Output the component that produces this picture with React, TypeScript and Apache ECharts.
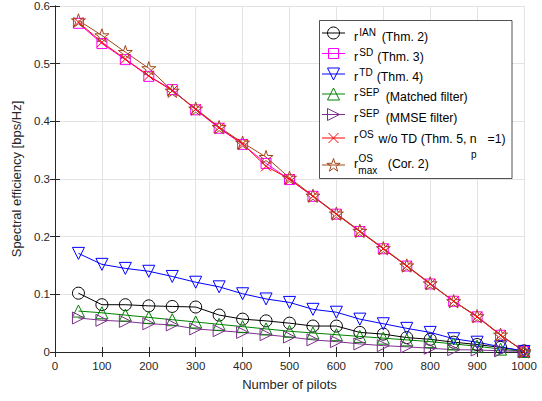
import React, { useEffect, useRef } from "react";
import * as echarts from "echarts";

const pilots = [50, 100, 150, 200, 250, 300, 350, 400, 450, 500, 550, 600, 650, 700, 750, 800, 850, 900, 950, 1000];

const rIAN = [0.102, 0.082, 0.082, 0.080, 0.079, 0.078, 0.064, 0.057, 0.054, 0.050, 0.045, 0.045, 0.034, 0.031, 0.025, 0.022, 0.017, 0.013, 0.008, 0.002];
const rSD = [0.570, 0.535, 0.507, 0.478, 0.455, 0.420, 0.388, 0.360, 0.327, 0.299, 0.270, 0.239, 0.209, 0.179, 0.149, 0.118, 0.088, 0.061, 0.029, 0.001];
const rTD = [0.171, 0.152, 0.145, 0.140, 0.131, 0.121, 0.113, 0.101, 0.092, 0.086, 0.074, 0.069, 0.057, 0.049, 0.041, 0.034, 0.023, 0.017, 0.009, 0.001];
const rSEPmf = [0.071, 0.068, 0.064, 0.060, 0.056, 0.052, 0.048, 0.044, 0.040, 0.036, 0.033, 0.030, 0.027, 0.024, 0.021, 0.018, 0.014, 0.010, 0.005, 0.001];
const rSEPmmse = [0.059, 0.055, 0.053, 0.049, 0.047, 0.040, 0.037, 0.034, 0.030, 0.026, 0.021, 0.018, 0.014, 0.011, 0.009, 0.0065, 0.004, 0.0035, 0.002, 0.001];
const rOS = [0.572, 0.537, 0.508, 0.479, 0.453, 0.421, 0.389, 0.361, 0.322, 0.300, 0.270, 0.239, 0.209, 0.179, 0.149, 0.118, 0.088, 0.061, 0.029, 0.001];
const rOSmax = [0.575, 0.549, 0.520, 0.492, 0.453, 0.422, 0.390, 0.363, 0.338, 0.302, 0.271, 0.240, 0.210, 0.180, 0.150, 0.119, 0.088, 0.062, 0.030, 0.001];

const FONT = "'Liberation Sans', Arial, Helvetica, sans-serif";
const TXT = "#262626";
const C_BLACK = "#000000";
const C_MAG = "#FF00FF";
const C_BLUE = "#0000FF";
const C_GREEN = "#008000";
const C_PURPLE = "#7E2F8E";
const C_RED = "#FF0000";
const C_BROWN = "#A0461A";

const STAR = "path://M100,0L122.45,69.1L195.1,69.1L136.3,111.8L158.8,180.9L100,138.2L41.2,180.9L63.7,111.8L4.9,69.1L77.55,69.1Z";
const XMARK = "path://M0,0L10,10M10,0L0,10";

function mk(name: string, vals: number[], color: string, symbol: string, size: number, rotate = 0) {
  return {
    type: "line",
    name,
    data: pilots.map((p, i) => [p, vals[i]]),
    symbol,
    symbolSize: size,
    symbolRotate: rotate,
    symbolKeepAspect: true,
    showAllSymbol: true,
    lineStyle: { color, width: 1 },
    itemStyle: { color: "rgba(0,0,0,0)", borderColor: color, borderWidth: 1 },
    emphasis: { disabled: true },
  };
}

function starPts(cx: number, cy: number, r: number) {
  const pts: number[][] = [];
  for (let k = 0; k < 10; k++) {
    const a = ((-90 + 36 * k) * Math.PI) / 180;
    const rr = k % 2 === 0 ? r : r * 0.382;
    pts.push([cx + rr * Math.cos(a), cy + rr * Math.sin(a)]);
  }
  return pts;
}

function legendGraphics() {
  const els: any[] = [];
  const bx = 319.5, by = 20.5, bw = 192.5, bh = 158;
  els.push({ type: "rect", shape: { x: bx, y: by, width: bw, height: bh }, style: { fill: "#fff", stroke: TXT, lineWidth: 0.8 }, z: 10 });
  const lx0 = 322, lx1 = 345, cx = 333.5;
  const rows = [
    { cy: 33, color: C_BLACK, mk: "circle" },
    { cy: 53.5, color: C_MAG, mk: "rect" },
    { cy: 74, color: C_BLUE, mk: "tdown" },
    { cy: 94, color: C_GREEN, mk: "tup" },
    { cy: 114.5, color: C_PURPLE, mk: "tright" },
    { cy: 138, color: C_RED, mk: "x" },
    { cy: 165, color: C_BROWN, mk: "star" },
  ];
  rows.forEach((r) => {
    els.push({ type: "line", shape: { x1: lx0, y1: r.cy, x2: lx1, y2: r.cy }, style: { stroke: r.color, lineWidth: 1 }, z: 11 });
    const st = { fill: "none", stroke: r.color, lineWidth: 1 };
    const y = r.cy;
    if (r.mk === "circle") els.push({ type: "circle", shape: { cx, cy: y, r: 6 }, style: st, z: 12 });
    if (r.mk === "rect") els.push({ type: "rect", shape: { x: cx - 5, y: y - 5, width: 10, height: 10 }, style: st, z: 12 });
    if (r.mk === "tdown") els.push({ type: "polygon", shape: { points: [[cx - 6, y - 6], [cx + 6, y - 6], [cx, y + 6]] }, style: st, z: 12 });
    if (r.mk === "tup") els.push({ type: "polygon", shape: { points: [[cx - 6, y + 6], [cx + 6, y + 6], [cx, y - 6]] }, style: st, z: 12 });
    if (r.mk === "tright") els.push({ type: "polygon", shape: { points: [[cx - 6, y - 6], [cx - 6, y + 6], [cx + 6, y]] }, style: st, z: 12 });
    if (r.mk === "x") {
      els.push({ type: "line", shape: { x1: cx - 5, y1: y - 5, x2: cx + 5, y2: y + 5 }, style: st, z: 12 });
      els.push({ type: "line", shape: { x1: cx + 5, y1: y - 5, x2: cx - 5, y2: y + 5 }, style: st, z: 12 });
    }
    if (r.mk === "star") els.push({ type: "polygon", shape: { points: starPts(cx, y + 0.5, 7) }, style: st, z: 12 });
  });
  const FS = 12.3, FSS = 10;
  const t = (text: string, x: number, y: number, fs: number) => ({
    type: "text", x, y, z: 12,
    style: { text, fill: C_BLACK, fontSize: fs, fontFamily: FONT, verticalAlign: "middle", align: "left" },
  });
  const entries = [
    { m: 36.5, sup: "IAN", rest: "(Thm. 2)", rx: 381.7 },
    { m: 56.5, sup: "SD", rest: "(Thm. 3)", rx: 377.3 },
    { m: 76.5, sup: "TD", rest: "(Thm. 4)", rx: 376.7 },
    { m: 96.5, sup: "SEP", rest: "(Matched filter)", rx: 385.7 },
    { m: 117.5, sup: "SEP", rest: "(MMSE filter)", rx: 385.7 },
    { m: 138.5, sup: "OS", rest: "w/o TD (Thm. 5, n", rx: 378.5 },
  ];
  entries.forEach((e) => {
    els.push(t("r", 354, e.m, FS));
    els.push(t(e.sup, 359.3, e.m - 4.3, FSS));
    els.push(t(e.rest, e.rx, e.m, FS));
  });
  els.push(t("p", 471, 154.8, FSS));
  els.push(t("=1)", 487.5, 138.5, FS));
  els.push(t("r", 354, 163.8, FS));
  els.push(t("OS", 358.5, 158.5, FSS));
  els.push(t("max", 358.3, 170.5, FSS));
  els.push(t("(Cor. 2)", 387.8, 163.8, FS));
  return els;
}

export default function App() {
  const ref = useRef<HTMLDivElement>(null);
  useEffect(() => {
    if (!ref.current) return;
    const chart = echarts.init(ref.current, null, { renderer: "svg" });
    const axisLine = { show: true, lineStyle: { color: TXT, width: 1 } };
    const tick = { show: true, inside: true, length: 5, lineStyle: { color: TXT, width: 1 } };
    const fmt = (v: number) => String(Math.round(v * 1000) / 1000);
    chart.setOption({
      animation: false,
      backgroundColor: "#ffffff",
      grid: { left: 55, right: 18, top: 6, bottom: 49, containLabel: false },
      xAxis: [
        {
          type: "value", min: 0, max: 1000, interval: 100, position: "bottom",
          name: "Number of pilots", nameLocation: "middle", nameGap: 26,
          nameTextStyle: { color: TXT, fontSize: 13, fontFamily: FONT },
          axisLine, axisTick: tick,
          axisLabel: { color: TXT, fontSize: 11.5, fontFamily: FONT, margin: 8, formatter: fmt },
          splitLine: { show: true, lineStyle: { color: "#E3E3E3", width: 1 } },
        },
        {
          type: "value", min: 0, max: 1000, interval: 100, position: "top",
          axisLine, axisTick: tick, axisLabel: { show: false }, splitLine: { show: false },
        },
      ],
      yAxis: [
        {
          type: "value", min: 0, max: 0.6, interval: 0.1, position: "left",
          name: "Spectral efficiency [bps/Hz]", nameLocation: "middle", nameGap: 29,
          nameTextStyle: { color: TXT, fontSize: 13, fontFamily: FONT },
          axisLine, axisTick: tick,
          axisLabel: { color: TXT, fontSize: 11.5, fontFamily: FONT, margin: 5, formatter: fmt },
          splitLine: { show: true, lineStyle: { color: "#E3E3E3", width: 1 } },
        },
        {
          type: "value", min: 0, max: 0.6, interval: 0.1, position: "right",
          axisLine, axisTick: tick, axisLabel: { show: false }, splitLine: { show: false },
        },
      ],
      series: [
        mk("rIAN", rIAN, C_BLACK, "circle", 12),
        mk("rSD", rSD, C_MAG, "rect", 10),
        mk("rTD", rTD, C_BLUE, "triangle", 12, 180),
        mk("rSEPmf", rSEPmf, C_GREEN, "triangle", 12),
        mk("rSEPmmse", rSEPmmse, C_PURPLE, "triangle", 12, -90),
        mk("rOS", rOS, C_RED, XMARK, 10),
        mk("rOSmax", rOSmax, C_BROWN, STAR, 14),
      ],
      graphic: legendGraphics(),
    });
    return () => chart.dispose();
  }, []);
  return <div ref={ref} style={{ position: "absolute", left: 0, top: 0, width: 542, height: 401 }} />;
}
